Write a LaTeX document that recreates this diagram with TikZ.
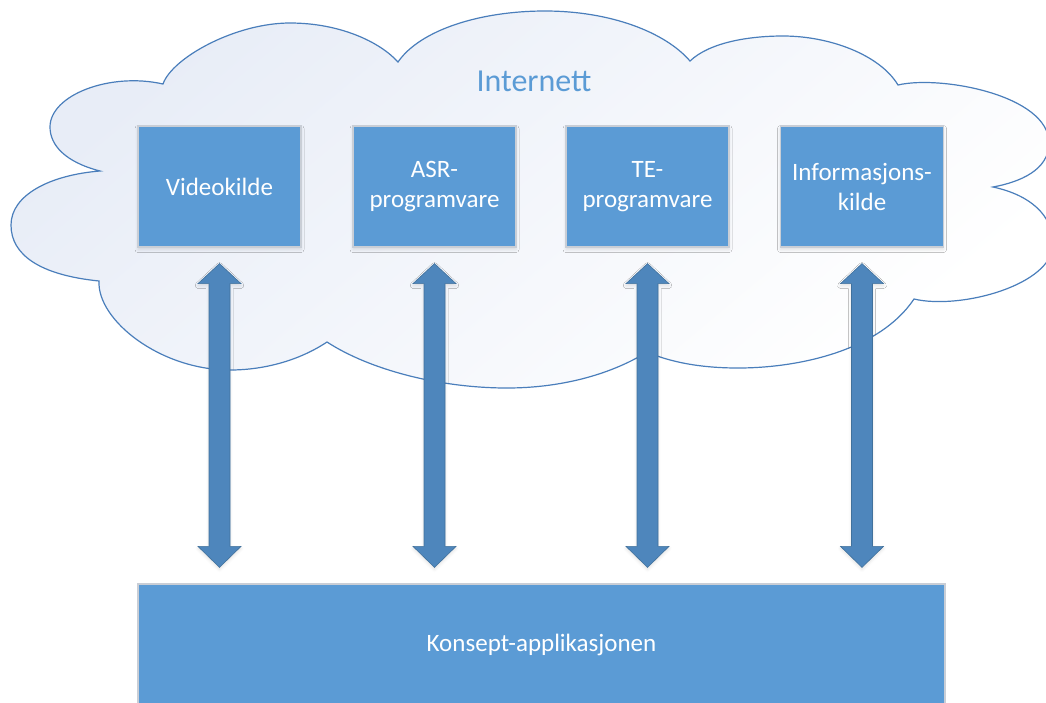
\documentclass[tikz,border=0pt]{standalone}
\usepackage{fontspec}
\setmainfont{Carlito}
\usetikzlibrary{calc,shadows.blur}

\definecolor{boxblue}{HTML}{5B9BD5}
\definecolor{boxedge}{HTML}{C9CED6}
\definecolor{arrowblue}{HTML}{4E86BC}
\definecolor{arrowedge}{HTML}{41719C}
\definecolor{cloudline}{HTML}{4A7EBB}
\definecolor{cloudtint}{HTML}{E8EDF7}
\definecolor{titleblue}{HTML}{5B9BD5}

\tikzset{
  cloudshape/.style={draw=cloudline, line width=1.2pt, line join=miter,
    top color=cloudtint, bottom color=white, shading angle=40},
  srcbox/.style={draw=boxedge, line width=1.2pt, fill=boxblue, text=white,
    minimum width=163pt, minimum height=121pt, inner sep=0pt, align=center,
    font=\fontsize{25}{30}\selectfont,
    blur shadow={shadow xshift=0pt, shadow yshift=-2.5pt, shadow blur radius=3pt, shadow opacity=12}},
  appbox/.style={draw=boxedge, line width=1.2pt, fill=boxblue, text=white,
    minimum width=807pt, minimum height=122pt, inner sep=0pt,
    font=\fontsize{25}{30}\selectfont},
  titletext/.style={text=titleblue, font=\fontsize{32}{38}\selectfont, anchor=base, inner sep=0pt},
  blockarrow/.style={fill=arrowblue, draw=arrowedge, line width=0.6pt, line join=miter,
    blur shadow={shadow xshift=0pt, shadow yshift=-2pt, shadow blur radius=3pt, shadow opacity=12}}
}

% double-headed block arrow from the bottom of box #1 down to the top of box #2
\newcommand\linkarrow[2]{%
  \path[blockarrow] let \p1=([yshift=-16pt]#1.south), \p2=([yshift=16pt]#2.north) in
    (\x1,\y1) -- (\x1+21.5pt,\y1-20pt) -- (\x1+10.5pt,\y1-20pt) -- (\x1+10.5pt,\y2+21pt)
    -- (\x1+21.5pt,\y2+21pt) -- (\x1,\y2) -- (\x1-21.5pt,\y2+21pt) -- (\x1-10.5pt,\y2+21pt)
    -- (\x1-10.5pt,\y1-20pt) -- (\x1-21.5pt,\y1-20pt) -- cycle;}

\begin{document}
\begin{tikzpicture}[x=1pt,y=-1pt]
\useasboundingbox (0,0) rectangle (1046,702);
\clip (0,0) rectangle (1046,702);

% the cloud, lobe by lobe, clockwise from the upper left
\path[cloudshape]
  (163,84) .. controls (172,58) and (235,23) .. (290,23)
           .. controls (340,23) and (380,42) .. (398,62)
  -- (398,62) .. controls (420,30) and (480,11) .. (545,11)
           .. controls (610,11) and (665,32) .. (690,61)
  -- (690,61) .. controls (710,42) and (750,36) .. (783,36)
           .. controls (830,36) and (880,55) .. (898,85)
  -- (898,85) .. controls (940,75) and (1049,95) .. (1049,143)
           .. controls (1049,170) and (1020,182) .. (993,187)
  -- (993,187) .. controls (1030,195) and (1053,215) .. (1053,244)
           .. controls (1053,285) and (960,310) .. (914,299)
  -- (914,299) .. controls (880,350) and (800,368) .. (738,368)
           .. controls (700,368) and (670,362) .. (647,352)
  -- (647,352) .. controls (610,375) and (560,388) .. (507,388)
           .. controls (440,388) and (370,370) .. (327,342)
  -- (327,342) .. controls (300,360) and (265,370) .. (230,370)
           .. controls (160,370) and (97,320) .. (99,281)
  -- (99,281) .. controls (40,275) and (11,255) .. (11,225)
           .. controls (11,195) and (50,175) .. (100,171)
  -- (100,171) .. controls (65,162) and (50,145) .. (50,127)
           .. controls (50,95) and (110,72) .. (163,84)
  -- cycle;

\node[titletext] (net) at (534,91) {Internett};

\node[srcbox] (vid) at (219.5,186.5) {Videokilde};
\node[srcbox] (asr) at (434.5,186.5) {ASR-\\programvare};
\node[srcbox] (te)  at (647.5,186.5) {TE-\\programvare};
\node[srcbox] (inf) at (862,186.5)   {Informasjons-\\kilde};

\node[appbox] (app) at (541.5,645) {Konsept-applikasjonen};

\linkarrow{vid}{app}
\linkarrow{asr}{app}
\linkarrow{te}{app}
\linkarrow{inf}{app}
\end{tikzpicture}
\end{document}
